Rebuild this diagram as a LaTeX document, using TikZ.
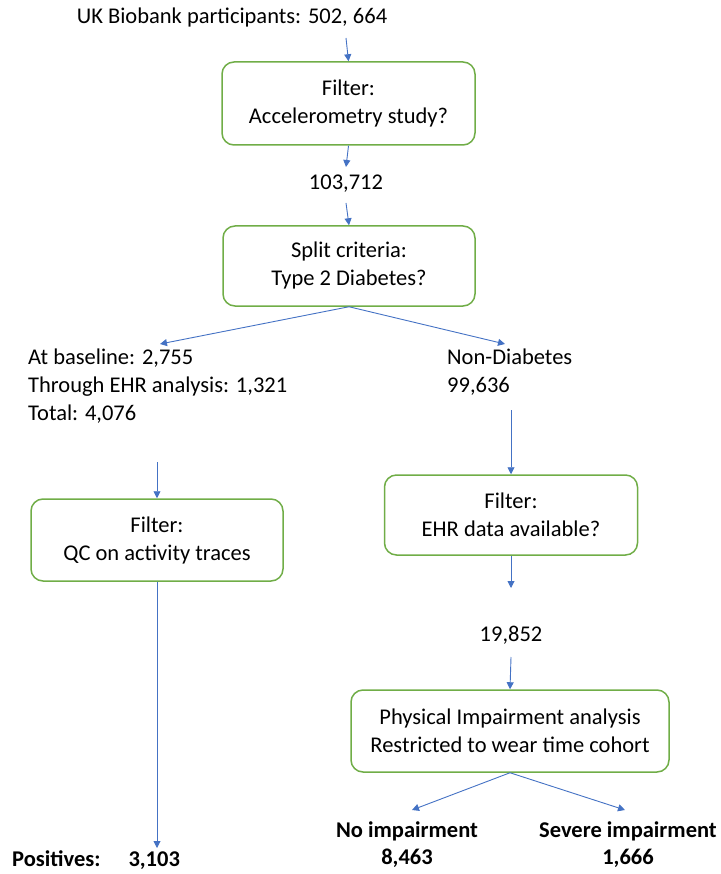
\documentclass[tikz,border=0pt]{standalone}
\usepackage{fontspec}
\setmainfont{Carlito}
\usetikzlibrary{arrows.meta}
\definecolor{boxgreen}{RGB}{112,173,71}
\definecolor{arrblue}{RGB}{68,114,196}
\begin{document}
\begin{tikzpicture}[x=1pt,y=-1pt,
  every node/.style={font=\fontsize{22.5}{28}\selectfont, inner sep=0pt},
  flowbox/.style={draw=boxgreen, line width=1.5pt, rounded corners=12pt, align=center},
  conn/.style={draw=arrblue, line width=0.9pt, -{Triangle[width=7pt,length=7pt]}},
  txt/.style={align=center},
  ltxt/.style={align=left}]
\useasboundingbox (0,0) rectangle (720,874);
% top
\node[txt] (title) at (232,18) {UK Biobank participants: 502, 664};
\coordinate (a0) at (346,38);
\node[flowbox, minimum width=253pt, minimum height=83pt] (box1) at (348.5,103.5) {Filter:\\Accelerometry study?};
\node[txt] (n1) at (346,184) {103,712};
\coordinate (n1bot) at (346,167);
\coordinate (n1out) at (346,203);
\node[flowbox, minimum width=252pt, minimum height=80pt] (box2) at (349,266) {Split criteria:\\Type 2 Diabetes?};
% split
\coordinate (c1) at (160,344);
\coordinate (c2) at (505,344);
\node[ltxt, anchor=west] (left) at (28,386) {At baseline: 2,755\\Through EHR analysis: 1,321\\Total: 4,076};
\node[ltxt, anchor=west] (right) at (447,372) {Non-Diabetes\\99,636};
% right branch
\coordinate (r1) at (511,410);
\node[flowbox, minimum width=253pt, minimum height=80pt] (box3) at (511,515) {Filter:\\EHR data available?};
\coordinate (r2) at (511,588);
\node[txt] (n19) at (511,635) {19,852};
\coordinate (r3) at (511,657);
\node[flowbox, minimum width=318pt, minimum height=82pt] (box4) at (510,731) {Physical Impairment analysis\\Restricted to wear time cohort};
\coordinate (d1) at (412,810);
\coordinate (d2) at (625,810);
\node[txt, font=\fontsize{22.5}{27}\selectfont\bfseries] (noimp) at (407,845) {No impairment\\8,463};
\node[txt, font=\fontsize{22.5}{27}\selectfont\bfseries] (sevimp) at (628,845) {Severe impairment\\1,666};
% left branch
\coordinate (l1) at (157,462);
\node[flowbox, minimum width=252pt, minimum height=82pt] (box5) at (157,540) {Filter:\\QC on activity traces};
\coordinate (l2) at (157,848);
\node[ltxt, anchor=west, font=\fontsize{22.5}{28}\selectfont\bfseries] (pos) at (12,860) {Positives:\hspace{28pt}3,103};
% connectors
\draw[conn] (a0) -- (box1.north);
\draw[conn] (box1.south) -- (n1bot);
\draw[conn] (n1out) -- (box2.north);
\draw[conn] (box2.south) -- (c1);
\draw[conn] (box2.south) -- (c2);
\draw[conn] (r1) -- (box3.north);
\draw[conn] (box3.south) -- (r2);
\draw[conn] (r3) -- (box4.north);
\draw[conn] (box4.south) -- (d1);
\draw[conn] (box4.south) -- (d2);
\draw[conn] (l1) -- (box5.north);
\draw[conn] (box5.south) -- (l2);
\end{tikzpicture}
\end{document}
